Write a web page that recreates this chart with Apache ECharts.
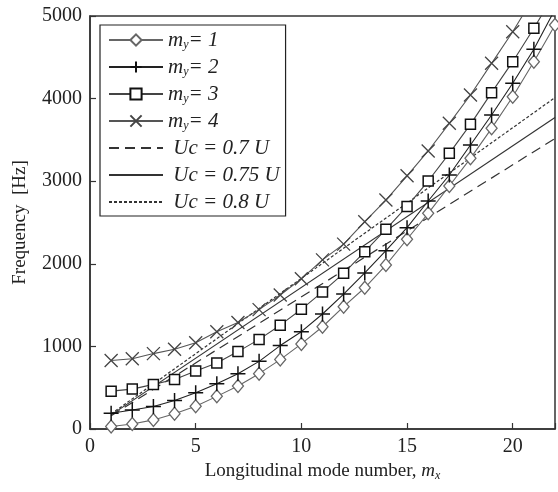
<!DOCTYPE html>
<html><head><meta charset="utf-8">
<script src="https://cdn.jsdelivr.net/npm/echarts@6/dist/echarts.min.js"></script>
<style>html,body{margin:0;padding:0;background:#fff}#c{width:558px;height:492px}</style>
</head><body><div id="c"></div>
<script>
// ---- data ----
const modeX = [1,2,3,4,5,6,7,8,9,10,11,12,13,14,15,16,17,18,19,20,21,22];
const my1 = [30,60,110,185,275,395,520,670,840,1030,1238,1481,1710,1985,2297,2611,2942,3277,3640,4023,4447,4891];
const my2 = [190,230,272,345,438,548,669,819,1010,1178,1392,1634,1889,2159,2437,2760,3075,3438,3801,4185,4597,5080];
const my3 = [458,483,540,600,702,800,937,1085,1257,1449,1660,1885,2147,2417,2695,3002,3337,3688,4072,4447,4851,5280];
const my4 = [830,850,913,965,1045,1178,1290,1445,1623,1818,2048,2238,2510,2772,3065,3366,3701,4044,4427,4810,5230];
const ucX = [1, 22];
const uc070 = [160, 3518];
const uc075 = [171, 3771];
const uc080 = [182, 4012];
const xTicks = [0,5,10,15,20];
const yTicks = [0,1000,2000,3000,4000,5000];

const serif = 'Liberation Serif';
const pair = (xs, ys) => ys.map((v,i)=>[xs[i], v]);
const PLUS = 'path://M5,0 L5,10 M0,5 L10,5';
const CROSS = 'path://M0,0 L10,10 M10,0 L0,10';

function markSeries(name, data, symbol, size, lineColor, markColor, bw){
  return {
    name, type:'line', data: pair(modeX, data), symbol, symbolSize:size,
    showSymbol:true, clip:true, z:3,
    lineStyle:{color:lineColor, width:1.1},
    itemStyle:{color:'#fff', borderColor:markColor, borderWidth:bw},
    emphasis:{disabled:true}, animation:false
  };
}
function ucSeries(name, data, type){
  return {
    name, type:'line', data: pair(ucX, data), symbol:'circle', symbolSize:1, showSymbol:false, z:2,
    lineStyle:{color:'#333', width:1.2, type},
    itemStyle:{color:'rgba(255,255,255,0)', borderColor:'rgba(255,255,255,0)', borderWidth:0},
    emphasis:{disabled:true}, animation:false
  };
}
const legendLabels = {
  'my1':'{i|m}{s|y}{t|= 1}', 'my2':'{i|m}{s|y}{t|= 2}', 'my3':'{i|m}{s|y}{t|= 3}', 'my4':'{i|m}{s|y}{t|= 4}',
  'uc1':'{t| Uc = 0.7 U}', 'uc2':'{t| Uc = 0.75 U}', 'uc3':'{t| Uc = 0.8 U}'
};
const chart = echarts.init(document.getElementById('c'), null, {renderer:'canvas'});
chart.setOption({
  animation:false,
  backgroundColor:'#fff',
  grid:{left:90, right:3, top:16, bottom:63, show:true, borderColor:'#333', borderWidth:1.5, containLabel:false},
  legend:{
    orient:'vertical', left:100, top:25, itemWidth:54, itemHeight:14, itemGap:5,
    padding:[4,6,3,8], borderColor:'#222', borderWidth:1.2, backgroundColor:'#fff',
    selectedMode:false, data:['my1','my2','my3','my4','uc1','uc2','uc3'],
    formatter: n => legendLabels[n],
    textStyle:{
      color:'#222', fontFamily:serif, fontSize:21, lineHeight:22,
      rich:{
        i:{fontStyle:'italic', fontFamily:serif, fontSize:21, color:'#222', lineHeight:22},
        s:{fontStyle:'italic', fontFamily:serif, fontSize:12, color:'#222', verticalAlign:'bottom', lineHeight:22, padding:[8,0,0,0]},
        t:{fontStyle:'italic', fontFamily:serif, fontSize:21, color:'#222', lineHeight:22}
      }
    }
  },
  xAxis:{
    type:'value', min:0, max:22, interval:5,
    name:'{r|Longitudinal mode number, }{i|m}{s|x}', nameLocation:'middle', nameGap:32,
    nameTextStyle:{rich:{
      r:{fontFamily:serif, fontSize:19, color:'#222'},
      i:{fontFamily:serif, fontSize:19, fontStyle:'italic', color:'#222'},
      s:{fontFamily:serif, fontSize:12, fontStyle:'italic', color:'#222', verticalAlign:'bottom', padding:[8,0,0,0]}
    }},
    axisLine:{show:true, lineStyle:{color:'#333', width:1.5}},
    axisTick:{show:true, inside:true, length:6, lineStyle:{color:'#333', width:1.2}},
    axisLabel:{fontFamily:serif, fontSize:20, color:'#222', margin:8,
      formatter: v => xTicks.indexOf(v) >= 0 ? String(v) : ''},
    splitLine:{show:false}
  },
  yAxis:{
    type:'value', min:0, max:5000, interval:1000,
    name:'Frequency  [Hz]', nameLocation:'middle', nameGap:60,
    nameTextStyle:{fontFamily:serif, fontSize:19, color:'#222'},
    axisLine:{show:true, lineStyle:{color:'#333', width:1.5}},
    axisTick:{show:true, inside:true, length:6, lineStyle:{color:'#333', width:1.2}},
    axisLabel:{fontFamily:serif, fontSize:20, color:'#222', margin:8,
      formatter: v => yTicks.indexOf(v) >= 0 ? String(v) : ''},
    splitLine:{show:false}
  },
  series:[
    markSeries('my1', my1, 'diamond', [11,13], '#666', '#666', 1.3),
    markSeries('my2', my2, PLUS, 15, '#222', '#111', 1.5),
    markSeries('my3', my3, 'rect', 10, '#444', '#111', 1.5),
    markSeries('my4', my4, CROSS, 13, '#555', '#444', 1.3),
    ucSeries('uc1', uc070, [10,6]),
    ucSeries('uc2', uc075, 'solid'),
    ucSeries('uc3', uc080, [3,2])
  ]
});
</script></body></html>
